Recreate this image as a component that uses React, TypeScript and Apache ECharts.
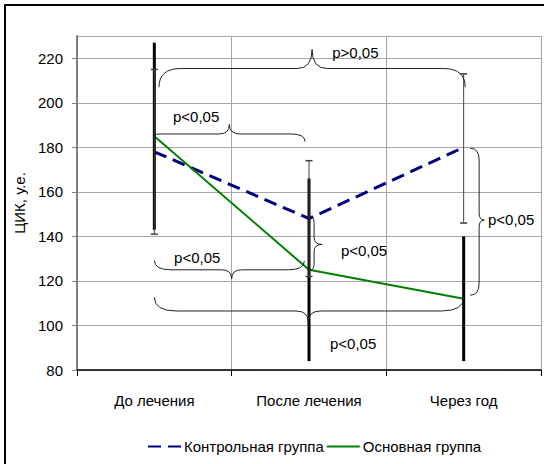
import React, { useEffect, useRef } from "react";
import * as echarts from "echarts";

const categories = ["До лечения", "После лечения", "Через год"];
const controlName = "Контрольная группа";
const mainName = "Основная группа";
const controlValues = [178, 148, 180];
const mainValues = [185, 125, 112];
// [low, high] error ranges
const controlErr = [[141, 215], [122, 174], [146, 213]];
const mainErr = [[143, 227], [84, 166], [84, 140]];
const yMin = 80;
const yMax = 230;
const yInterval = 20;

// horizontal braces: [x0, x1, xTip, yLine, yEndLeft, yEndRight, yTip] (x in category units, y in axis values)
const hBraces = [
  [0.03, 2.01, 1.02, 215.4, 207, 207, 224],
  [0.0, 0.975, 0.485, 186, 185, 182.5, 190.3],
  [0.0, 0.97, 0.5, 125, 129.2, 129, 120.9],
  [0.0, 2.0, 0.995, 106.5, 112.7, 112.7, 101.5],
];
// vertical braces: [xEnd, xLine, xTip, yTop, yBottom, yTip]
const vBraces = [
  [1.007, 1.033, 1.085, 149, 124.9, 136.4],
  [2.042, 2.1, 2.133, 179.6, 113.6, 147.3],
];
// labels: [text, x, y]
const braceLabels: [string, number, number][] = [
  ["p>0,05", 1.3, 222.7],
  ["p<0,05", 0.27, 194],
  ["p<0,05", 0.277, 130.7],
  ["p<0,05", 1.285, 92.1],
  ["p<0,05", 1.356, 133.8],
  ["p<0,05", 2.307, 147.7],
];

const FONT = "'Liberation Sans Narrow', 'Arial Narrow', 'Liberation Sans', Arial, sans-serif";
const FS = 15;
const BRACE_COLOR = "#222";

function px(api: any, xf: number, v: number) {
  const a = api.coord([0, v]);
  const b = api.coord([1, v]);
  return [a[0] + xf * (b[0] - a[0]), a[1]];
}

function curve(x1: number, y1: number, cx: number, cy: number, x2: number, y2: number) {
  return {
    type: "bezierCurve",
    shape: { x1, y1, x2, y2, cpx1: cx, cpy1: cy },
    style: { stroke: BRACE_COLOR, lineWidth: 1, fill: "none" },
  };
}
function seg(x1: number, y1: number, x2: number, y2: number) {
  return {
    type: "line",
    shape: { x1, y1, x2, y2 },
    style: { stroke: BRACE_COLOR, lineWidth: 1 },
  };
}
function rr(d: number, lo: number, hi: number) {
  return Math.min(hi, Math.max(lo, Math.abs(d) * 1.8));
}

export default function App() {
  const ref = useRef<HTMLDivElement>(null);
  useEffect(() => {
    if (!ref.current) return;
    const chart = echarts.init(ref.current, null, { renderer: "svg" });
    const option: any = {
      animation: false,
      backgroundColor: "#fff",
      grid: { left: 77, right: 3, top: 36, bottom: 94, containLabel: false },
      graphic: [
        {
          type: "rect",
          shape: { x: 5, y: 5, width: 600, height: 600 },
          style: { fill: "none", stroke: "#000", lineWidth: 2 },
          z: 100,
          silent: true,
        },
      ],
      legend: {
        data: [controlName, mainName],
        left: 147,
        top: 439,
        padding: 0,
        itemWidth: 33,
        itemHeight: 18,
        itemGap: 2,
        itemStyle: { opacity: 0 },
        textStyle: { fontFamily: FONT, fontSize: FS, color: "#000", padding: [0, 0, 0, -2] },
      },
      xAxis: {
        type: "category",
        data: categories,
        boundaryGap: true,
        axisLine: { show: true, lineStyle: { color: "#000", width: 1.5 } },
        axisTick: { show: true, length: 6, lineStyle: { color: "#000" } },
        axisLabel: { margin: 23, fontSize: FS, fontFamily: FONT, color: "#000" },
        splitLine: { show: true, lineStyle: { color: "#a6a6a6", width: 1 } },
      },
      yAxis: {
        type: "value",
        min: yMin,
        max: yMax,
        interval: yInterval,
        name: "ЦИК, у.е.",
        nameLocation: "middle",
        nameGap: 41,
        nameRotate: 90,
        nameTextStyle: { fontSize: FS, fontFamily: FONT, color: "#000" },
        axisLine: { show: true, lineStyle: { color: "#808080", width: 2 } },
        axisTick: { show: true, length: 5, lineStyle: { color: "#808080" } },
        axisLabel: { margin: 14, fontSize: FS, fontFamily: FONT, color: "#000", showMaxLabel: false },
        splitLine: { show: true, lineStyle: { color: "#a6a6a6", width: 1 } },
      },
      series: [
        {
          name: controlName,
          type: "line",
          data: controlValues,
          symbol: "none",
          color: "#000080",
          lineStyle: { color: "#000080", width: 3, type: [13, 7] },
          z: 3,
        },
        {
          name: mainName,
          type: "line",
          data: mainValues,
          symbol: "none",
          color: "#008000",
          lineStyle: { color: "#008000", width: 2 },
          z: 3,
        },
        {
          type: "custom",
          name: "errMain",
          data: mainErr.map((e, i) => [i, e[0], e[1]]),
          encode: { x: 0, y: [1, 2] },
          z: 4,
          silent: true,
          renderItem: (params: any, api: any) => {
            const i = api.value(0);
            const lo = api.coord([i, api.value(1)]);
            const hi = api.coord([i, api.value(2)]);
            return {
              type: "line",
              shape: { x1: lo[0], y1: lo[1], x2: hi[0], y2: hi[1] },
              style: { stroke: "#000", lineWidth: 3 },
            };
          },
        },
        {
          type: "custom",
          name: "errControl",
          data: controlErr.map((e, i) => [i, e[0], e[1]]),
          encode: { x: 0, y: [1, 2] },
          z: 5,
          silent: true,
          renderItem: (params: any, api: any) => {
            const i = api.value(0);
            const lo = api.coord([i, api.value(1)]);
            const hi = api.coord([i, api.value(2)]);
            const w = 3.5;
            const st = { stroke: "#404040", lineWidth: 1 };
            return {
              type: "group",
              children: [
                { type: "line", shape: { x1: lo[0], y1: lo[1], x2: hi[0], y2: hi[1] }, style: st },
                { type: "line", shape: { x1: lo[0] - w, y1: lo[1], x2: lo[0] + w, y2: lo[1] }, style: { ...st, lineWidth: 1.5 } },
                { type: "line", shape: { x1: hi[0] - w, y1: hi[1], x2: hi[0] + w, y2: hi[1] }, style: { ...st, lineWidth: 1.5 } },
              ],
            };
          },
        },
        {
          type: "custom",
          name: "hBraces",
          data: hBraces.map((b) => [b[0], b[3]]),
          encode: { x: 0, y: 1 },
          z: 6,
          silent: true,
          renderItem: (params: any, api: any) => {
            const b = hBraces[params.dataIndex];
            const [x0] = px(api, b[0], b[3]);
            const [x1] = px(api, b[1], b[3]);
            const [xt] = px(api, b[2], b[3]);
            const yl = px(api, 0, b[3])[1];
            const ye0 = px(api, 0, b[4])[1];
            const ye1 = px(api, 0, b[5])[1];
            const yt = px(api, 0, b[6])[1];
            const r0 = rr(ye0 - yl, 6, 22);
            const r1 = rr(ye1 - yl, 6, 22);
            const r2 = Math.min(15, Math.max(9, Math.abs(yt - yl) * 1.1));
            return {
              type: "group",
              children: [
                curve(x0, ye0, x0, yl, x0 + r0, yl),
                seg(x0 + r0, yl, xt - r2, yl),
                curve(xt - r2, yl, xt, yl, xt, yt),
                curve(xt, yt, xt, yl, xt + r2, yl),
                seg(xt + r2, yl, x1 - r1, yl),
                curve(x1 - r1, yl, x1, yl, x1, ye1),
              ],
            };
          },
        },
        {
          type: "custom",
          name: "vBraces",
          data: vBraces.map((b) => [b[0], b[3]]),
          encode: { x: 0, y: 1 },
          z: 6,
          silent: true,
          renderItem: (params: any, api: any) => {
            const b = vBraces[params.dataIndex];
            const [xe, ytop] = px(api, b[0], b[3]);
            const [xl] = px(api, b[1], b[3]);
            const [xt] = px(api, b[2], b[3]);
            const ybot = px(api, 0, b[4])[1];
            const ytip = px(api, 0, b[5])[1];
            const r = Math.min(12, Math.max(5, Math.abs(xl - xe) * 1.6));
            const r2 = 7;
            return {
              type: "group",
              children: [
                curve(xe, ytop, xl, ytop, xl, ytop + r),
                seg(xl, ytop + r, xl, ytip - r2),
                curve(xl, ytip - r2, xl, ytip, xt, ytip),
                curve(xt, ytip, xl, ytip, xl, ytip + r2),
                seg(xl, ytip + r2, xl, ybot - r),
                curve(xl, ybot - r, xl, ybot, xe, ybot),
              ],
            };
          },
        },
        {
          type: "custom",
          name: "labels",
          data: braceLabels.map((l) => [l[1], l[2]]),
          encode: { x: 0, y: 1 },
          z: 7,
          silent: true,
          renderItem: (params: any, api: any) => {
            const l = braceLabels[params.dataIndex];
            const [x, y] = px(api, l[1], l[2]);
            return {
              type: "text",
              x,
              y,
              style: {
                text: l[0],
                fontSize: FS,
                fontFamily: FONT,
                fill: "#000",
                align: "center",
                verticalAlign: "middle",
              },
            };
          },
        },
      ],
    };
    chart.setOption(option);
    return () => chart.dispose();
  }, []);
  return (
    <div
      ref={ref}
      style={{ position: "fixed", left: 0, top: 0, width: 544, height: 464, background: "#fff" }}
    />
  );
}
